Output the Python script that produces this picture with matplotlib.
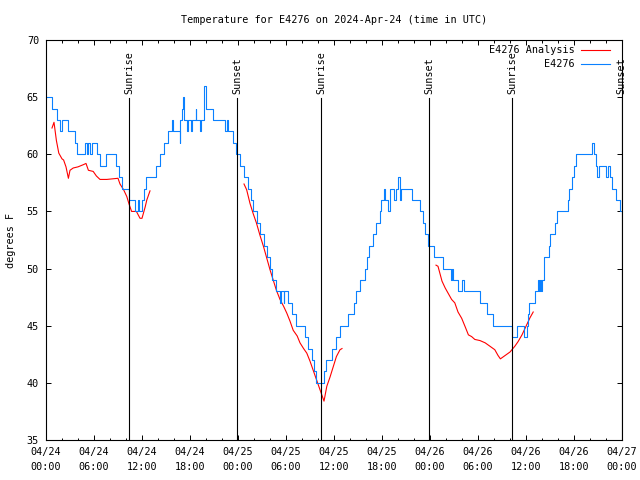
import numpy as np
import matplotlib
matplotlib.use("Agg")
import matplotlib.pyplot as plt

# hours since 2024-04-24 00:00 UTC
# --- observed E4276 temperature (F): hour where the reading changes, new value ---
obs_h = [0.0, 0.7, 1.33, 1.75, 2.0, 2.75, 3.6, 3.9, 4.9, 5.15, 5.3, 5.5, 5.7,
         6.4, 6.75, 7.5, 8.8, 9.1, 9.45, 9.67, 10.4, 11.1, 11.45, 11.6, 12.0,
         12.25, 12.45, 12.6, 13.8, 14.2, 14.8, 15.2, 15.7, 15.9, 16.7, 16.8,
         17.0, 17.15, 17.3, 17.6, 17.8, 18.1, 18.25, 18.7, 18.8, 19.2, 19.4,
         19.7, 19.8, 20.0, 20.9, 22.4, 22.6, 22.8, 23.4, 23.75, 24.2, 24.75,
         25.2, 25.6, 25.9, 26.4, 26.8, 27.25, 27.6, 28.0, 28.3, 28.8, 29.2,
         29.4, 29.7, 29.8, 30.3, 30.7, 31.3, 32.4, 32.8, 33.2, 33.5, 33.75,
         34.75, 35.0, 35.7, 36.25, 36.75, 37.8, 38.5, 38.8, 39.25, 39.9, 40.1,
         40.4, 40.9, 41.3, 41.75, 41.9, 42.2, 42.4, 42.7, 43.0, 43.5, 43.7,
         43.95, 44.2, 44.4, 45.7, 46.75, 47.1, 47.4, 47.7, 48.5, 49.6, 50.6,
         50.75, 50.9, 51.5, 51.96, 52.25, 54.25, 55.1, 55.9, 58.3, 58.9, 59.75,
         60.1, 60.2, 60.4, 61.1, 61.5, 61.6, 61.75, 61.9, 62.0, 62.2, 62.3,
         62.9, 63.0, 63.6, 63.9, 65.3, 65.4, 65.7, 66.0, 66.3, 68.2, 68.5,
         68.7, 68.85, 69.1, 70.0, 70.2, 70.5, 70.8, 71.25, 71.7, 72.0]
obs_v = [65, 64, 63, 62, 63, 62, 61, 60, 61, 60, 61, 60, 61,
         60, 59, 60, 59, 58, 57, 57, 56, 55, 56, 55, 56,
         57, 58, 58, 59, 60, 61, 62, 63, 62, 61, 63,
         64, 65, 63, 62, 63, 62, 63, 64, 63, 62, 63,
         64, 66, 64, 63, 62, 63, 62, 61, 60, 59, 58,
         57, 56, 55, 54, 53, 52, 51, 50, 49, 48, 47,
         48, 47, 48, 47, 46, 45, 44, 43, 42, 41, 40,
         41, 42, 43, 44, 45, 46, 47, 48, 49, 50, 51,
         52, 53, 54, 55, 56, 57, 56, 55, 57, 56, 57,
         58, 56, 57, 56, 55, 54, 53, 52, 51, 50, 49,
         50, 49, 48, 49, 48, 47, 46, 45, 44, 45, 44,
         45, 46, 47, 48, 49, 48, 49, 48, 49, 50, 51,
         52, 53, 54, 55, 56, 57, 58, 59, 60, 61, 60,
         59, 58, 59, 58, 59, 58, 57, 56, 55, 55]

# --- E4276 analysis (F), three 12-hour runs ---
ana1_h = [0.75, 1.0, 1.3, 1.6, 2.0, 2.2, 2.5, 2.8, 3.0, 3.4, 4.0, 4.7, 5.0,
          5.3, 5.9, 6.3, 6.75, 7.6, 9.0, 9.25, 9.7, 10.1, 10.4, 10.7, 11.3,
          11.75, 12.0, 12.4, 12.6, 13.0]
ana1_v = [62.3, 62.8, 61.2, 60.1, 59.6, 59.5, 58.9, 57.9, 58.6, 58.8, 58.9,
          59.1, 59.2, 58.6, 58.5, 58.1, 57.8, 57.8, 57.9, 57.4, 56.9, 56.3,
          55.6, 55.0, 55.0, 54.4, 54.4, 55.4, 56.0, 56.8]
ana2_h = [24.75, 25.08, 25.5, 25.9, 26.3, 26.75, 27.2, 27.6, 28.0, 28.4,
          28.8, 29.25, 29.7, 30.1, 30.5, 30.9, 31.4, 31.75, 32.2, 32.6, 33.0,
          33.4, 33.8, 34.25, 34.75, 35.1, 35.5, 35.9, 36.3, 36.75, 37.0]
ana2_v = [57.4, 56.9, 55.7, 54.8, 54.0, 52.9, 51.9, 50.9, 49.9, 49.0,
          48.1, 47.3, 46.7, 46.1, 45.4, 44.6, 44.1, 43.5, 43.0, 42.6, 41.9,
          41.1, 40.3, 39.4, 38.4, 39.7, 40.5, 41.4, 42.3, 42.9, 43.0]
ana3_h = [48.75, 49.0, 49.5, 49.9, 50.3, 50.7, 51.1, 51.5, 51.96, 52.4,
          52.8, 53.2, 53.6, 54.25, 54.9, 55.5, 56.1, 56.5, 56.8, 57.4, 58.0,
          58.6, 59.0, 59.5, 60.1, 60.5, 60.9]
ana3_v = [50.3, 50.2, 48.9, 48.3, 47.8, 47.3, 47.0, 46.2, 45.65, 44.9,
          44.2, 44.05, 43.8, 43.7, 43.5, 43.2, 42.9, 42.4, 42.1, 42.4, 42.7,
          43.2, 43.6, 44.2, 45.1, 45.7, 46.2]

# --- sun events ---
sun_h = [10.375, 23.875, 34.375, 47.875, 58.25, 71.95]
sun_lab = ["Sunrise", "Sunset", "Sunrise", "Sunset", "Sunrise", "Sunset"]

xt_h = list(range(0, 73, 6))
xt_lab = ["04/24\n00:00", "04/24\n06:00", "04/24\n12:00", "04/24\n18:00",
          "04/25\n00:00", "04/25\n06:00", "04/25\n12:00", "04/25\n18:00",
          "04/26\n00:00", "04/26\n06:00", "04/26\n12:00", "04/26\n18:00",
          "04/27\n00:00"]

plt.rcParams["font.family"] = "DejaVu Sans Mono"
plt.rcParams["font.size"] = 7.3

RED = "#ff0000"
BLUE = "#0a80ff"

fig = plt.figure(figsize=(6.4, 4.8), dpi=100)
ax = fig.add_axes([46 / 640, 40 / 480, 576 / 640, 400 / 480])

for hh, vv in [(ana1_h, ana1_v), (ana2_h, ana2_v), (ana3_h, ana3_v)]:
    ax.plot(hh, vv, color=RED, lw=0.8)
ax.plot(obs_h, obs_v, color=BLUE, lw=0.8, drawstyle="steps-post")

for h, lab in zip(sun_h, sun_lab):
    ax.axvline(h, ymin=0, ymax=0.855, color="black", lw=0.8)
    ax.text(h, 0.865, lab, transform=ax.get_xaxis_transform(), rotation=90,
            ha="center", va="bottom")

ax.set_xlim(0, 72)
ax.set_ylim(35, 70)
ax.set_xticks(xt_h)
ax.set_xticklabels(xt_lab, linespacing=1.6)
ax.set_xticks(range(0, 73, 2), minor=True)
ax.set_yticks(range(35, 71, 5))
ax.tick_params(direction="in", top=True, right=True, length=3.5, width=0.7,
               pad=5)
ax.tick_params(which="minor", direction="in", top=True, length=1.8, width=0.7)
for s in ax.spines.values():
    s.set_linewidth(0.8)
ax.set_ylabel("degrees F", labelpad=8)

fig.text(334 / 640, 1 - 20 / 480, "Temperature for E4276 on 2024-Apr-24 (time in UTC)",
         ha="center", va="center")

# gnuplot-style key: right-aligned text, line sample to its right
for i, (lab, col) in enumerate([("E4276 Analysis", RED), ("E4276", BLUE)]):
    yk = 1 - (50 + 14 * i) / 480
    fig.text(575 / 640, yk, lab, ha="right", va="center")
    fig.add_artist(plt.Line2D([581 / 640, 610 / 640], [yk, yk], color=col,
                              lw=0.8, transform=fig.transFigure))

fig.savefig("out.png", dpi=100)
